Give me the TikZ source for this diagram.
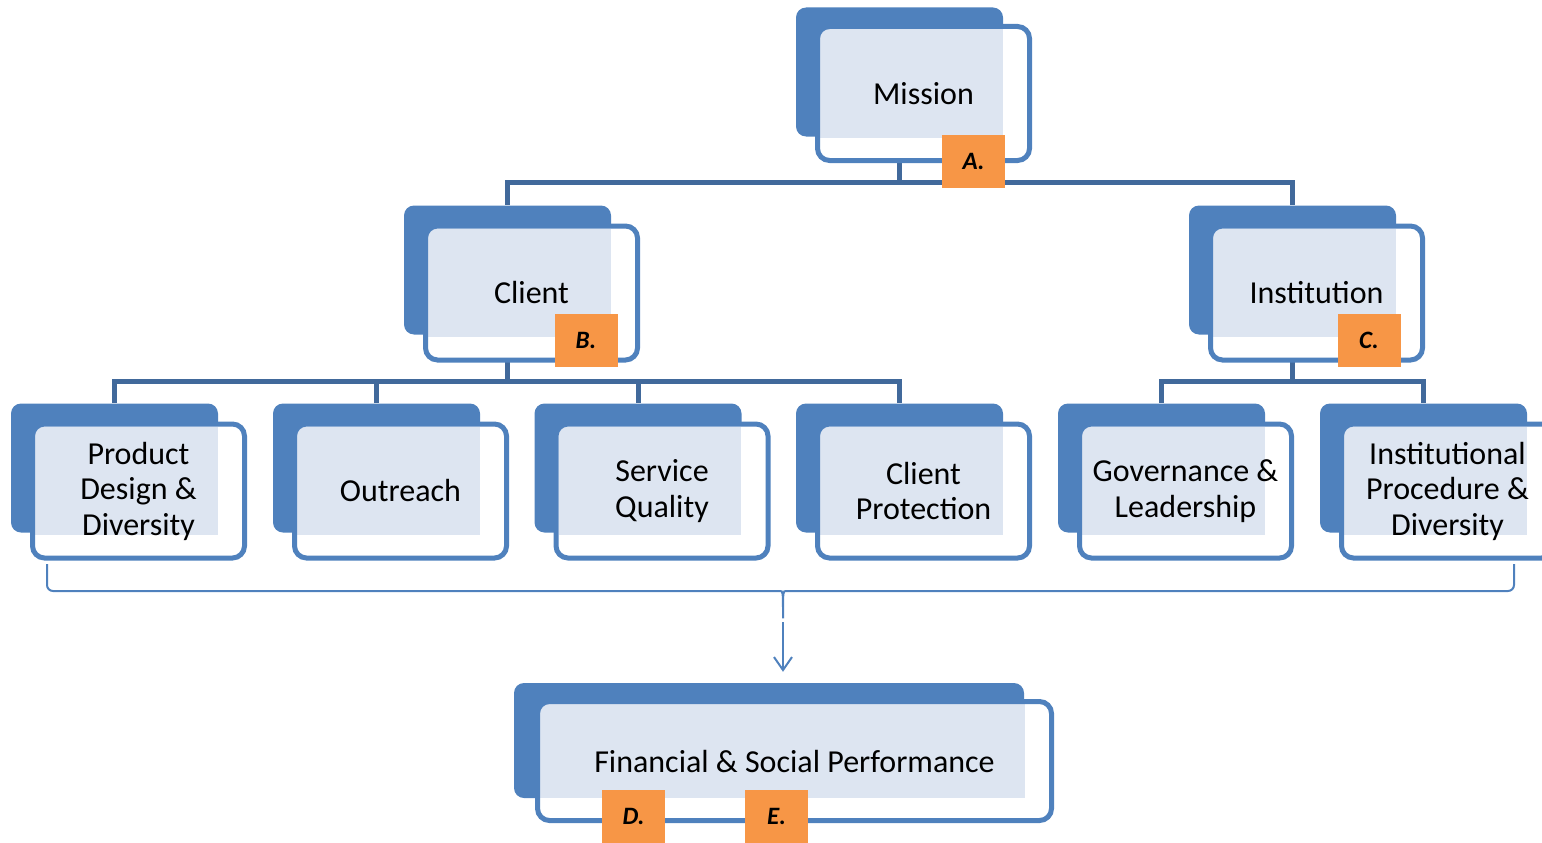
\documentclass[tikz,border=0pt]{standalone}
\usepackage{fontspec}
\setmainfont{Carlito}
\usetikzlibrary{arrows.meta, backgrounds, calc}
\definecolor{boxblue}{HTML}{4F81BD}
\definecolor{busblue}{HTML}{41699B}
\definecolor{dotblue}{HTML}{DDE5F1}
\definecolor{tagorange}{HTML}{F79646}

\begin{document}
\begin{tikzpicture}[
                x = 1pt, y = -1pt,
                back/.style = {rectangle, rounded corners=10pt, fill=boxblue, inner sep=0pt,
                               minimum width=207pt, minimum height=129pt},
                card/.style = {rectangle, rounded corners=12pt, draw=boxblue, line width=5pt, fill=white,
                               minimum width=212pt, minimum height=134pt, inner sep=0pt, align=center,
                               font=\fontsize{32}{35.5}\selectfont,
                               path picture={\fill[dotblue, sharp corners]
                                   ([shift={(2.5pt,-2.5pt)}]path picture bounding box.north west) rectangle
                                   ([shift={(-27pt,23pt)}]path picture bounding box.south east);}},
                tag/.style = {rectangle, fill=tagorange, minimum width=63pt, minimum height=53pt, inner sep=0pt,
                              font=\fontsize{25}{28}\selectfont\bfseries\itshape},
                bus/.style = {draw=busblue, line width=5pt},
                brace/.style = {draw=boxblue, line width=2pt}
                    ]
                \useasboundingbox (0,0) rectangle (1542,843);
                % top level
                \node[back] (mission-b) at (899.5,72) {};
                \node[card] (mission) at (923.5,93.5) {Mission};
                % second level
                \node[back] (client-b) at (507.5,270) {};
                \node[card] (client) at (531.5,293) {Client};
                \node[back] (inst-b) at (1292.5,270) {};
                \node[card] (inst) at (1316.5,293) {Institution};
                % third level
                \node[back] (product-b) at (114.5,468) {};
                \node[card] (product) at (138.5,491) {Product\\Design \&\\Diversity};
                \node[back] (outreach-b) at (376.5,468) {};
                \node[card] (outreach) at (400.5,491) {Outreach};
                \node[back] (service-b) at (638,468) {};
                \node[card] (service) at (662,491) {Service\\Quality};
                \node[back] (protect-b) at (899.5,468) {};
                \node[card] (protect) at (923.5,491) {Client\\Protection};
                \node[back] (govern-b) at (1161.5,468) {};
                \node[card] (govern) at (1185.5,491) {Governance \&\\Leadership};
                \node[back] (procedure-b) at (1423.5,468) {};
                \node[card] (procedure) at (1447.5,491) {Institutional\\Procedure \&\\Diversity};
                % result
                \node[back, minimum width=510pt, minimum height=115pt] (perf-b) at (769,740.5) {};
                \node[card, minimum width=514pt, minimum height=119pt] (perf) at (794.5,761) {Financial \& Social Performance};
                % letters
                \node[tag] (tag-a) at (973.5,161.5) {A.};
                \node[tag] (tag-b) at (586,340.5) {B.};
                \node[tag] (tag-c) at (1369,340.5) {C.};
                \node[tag] (tag-d) at (633.5,816) {D.};
                \node[tag] (tag-e) at (776.5,816) {E.};
                % tree lines
                \begin{scope}[on background layer]
                \draw[bus] (mission-b.south) -- ++(0,46) -| (client-b.north);
                \draw[bus] (mission-b.south) -- ++(0,46) -| (inst-b.north);
                \draw[bus] (client-b.south) -- ++(0,47) -| (product-b.north);
                \draw[bus] (client-b.south) -- ++(0,47) -| (outreach-b.north);
                \draw[bus] (client-b.south) -- ++(0,47) -| (service-b.north);
                \draw[bus] (client-b.south) -- ++(0,47) -| (protect-b.north);
                \draw[bus] (inst-b.south) -- ++(0,47) -| (govern-b.north);
                \draw[bus] (inst-b.south) -- ++(0,47) -| (procedure-b.north);
                \end{scope}
                % brace over the third level
                \coordinate (brace-l) at (47,564);
                \coordinate (brace-r) at (1514,564);
                \coordinate (brace-tip) at (783,622);
                \draw[brace, rounded corners=6pt] (brace-l) |- (774,591)
                    .. controls (783,591) .. (brace-tip)
                    .. controls (783,591) .. (792,591) -| (brace-r);
                \draw[brace, -{Straight Barb[length=13pt, width=18pt]}, shorten >=11pt]
                    (brace-tip) -- (brace-tip |- perf-b.north);
            \end{tikzpicture}
\end{document}
